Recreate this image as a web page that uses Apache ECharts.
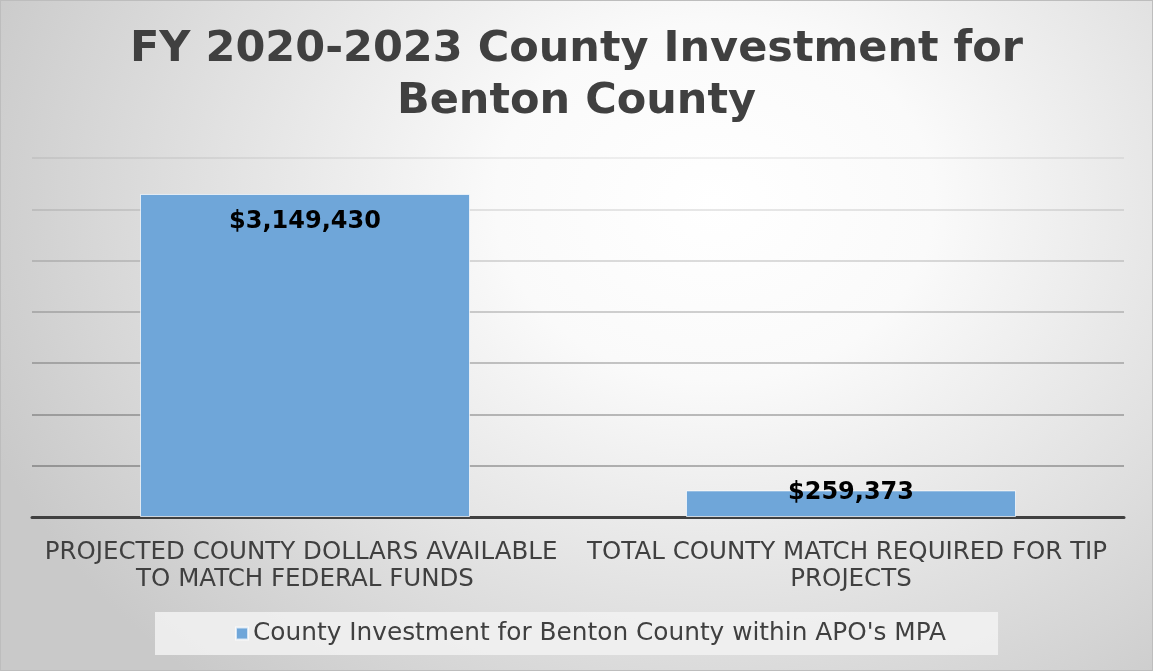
<!DOCTYPE html>
<html>
<head>
<meta charset="utf-8">
<script src="https://cdn.jsdelivr.net/npm/echarts@6/dist/echarts.min.js"></script>
<style>
html,body{margin:0;padding:0;}
#chart{width:1153px;height:671px;box-sizing:border-box;border:1px solid #bdbdbd;
background:radial-gradient(ellipse 68% 95% at 62% 30%, #ffffff 0%, #fafafa 28%, #c9c9c9 100%);}
</style>
</head>
<body>
<div id="chart"></div>
<script>
const titleText = 'FY 2020-2023 County Investment for\nBenton County';
const categories = ['PROJECTED COUNTY DOLLARS AVAILABLE TO MATCH FEDERAL FUNDS', 'TOTAL COUNTY MATCH REQUIRED FOR TIP PROJECTS'];
const seriesName = "County Investment for Benton County within APO's MPA";
const values = [3149430, 259373];
const yMin = 0, yMax = 3500000, yInterval = 500000;

const font = '"DejaVu Sans", Verdana, sans-serif';
const chart = echarts.init(document.getElementById('chart'), null, {renderer:'canvas'});
chart.setOption({
  backgroundColor: 'transparent',
  title: {
    text: titleText, left: 'center', top: 18,
    textStyle: {fontFamily: font, fontWeight: 'bold', fontSize: 43, color: '#404040', lineHeight: 52}
  },
  grid: {left: 31, right: 28, top: 157, bottom: 153},
  legend: {
    bottom: 15, left: 154,
    data: [seriesName],
    icon: 'rect', itemWidth: 12, itemHeight: 12, itemGap: 6,
    backgroundColor: 'rgba(242,242,242,0.85)',
    padding: [9, 52, 9, 80],
    textStyle: {fontFamily: font, fontSize: 24.8, color: '#404040'}
  },
  xAxis: {
    type: 'category', data: categories,
    axisLine: {lineStyle: {color: '#404040', width: 3}},
    axisTick: {show: false},
    axisLabel: {fontFamily: font, fontSize: 24.5, color: '#404040', lineHeight: 27, margin: 22,
      width: 535, overflow: 'break', interval: 0}
  },
  yAxis: {
    type: 'value', min: yMin, max: yMax, interval: yInterval,
    axisLabel: {show: false}, axisLine: {show: false}, axisTick: {show: false},
    splitLine: {lineStyle: {
      color: ['rgba(0,0,0,0.38)','rgba(0,0,0,0.36)','rgba(0,0,0,0.33)','rgba(0,0,0,0.29)','rgba(0,0,0,0.24)','rgba(0,0,0,0.18)','rgba(0,0,0,0.13)','rgba(0,0,0,0.08)'],
      width: 1.5}}
  },
  series: [{
    name: seriesName, type: 'bar', barWidth: 330,
    data: values.map((v, i) => i === 1 ? {value: v, label: {position: 'top', distance: -14}} : v),
    itemStyle: {color: '#6fa6d9', borderColor: 'rgba(255,255,255,0.7)', borderWidth: 1},
    label: {
      show: true, position: 'insideTop', distance: 16,
      fontFamily: font, fontWeight: 'bold', fontSize: 24, color: '#000',
      formatter: p => '$' + p.value.toLocaleString('en-US')
    }
  }]
});
</script>
</body>
</html>
